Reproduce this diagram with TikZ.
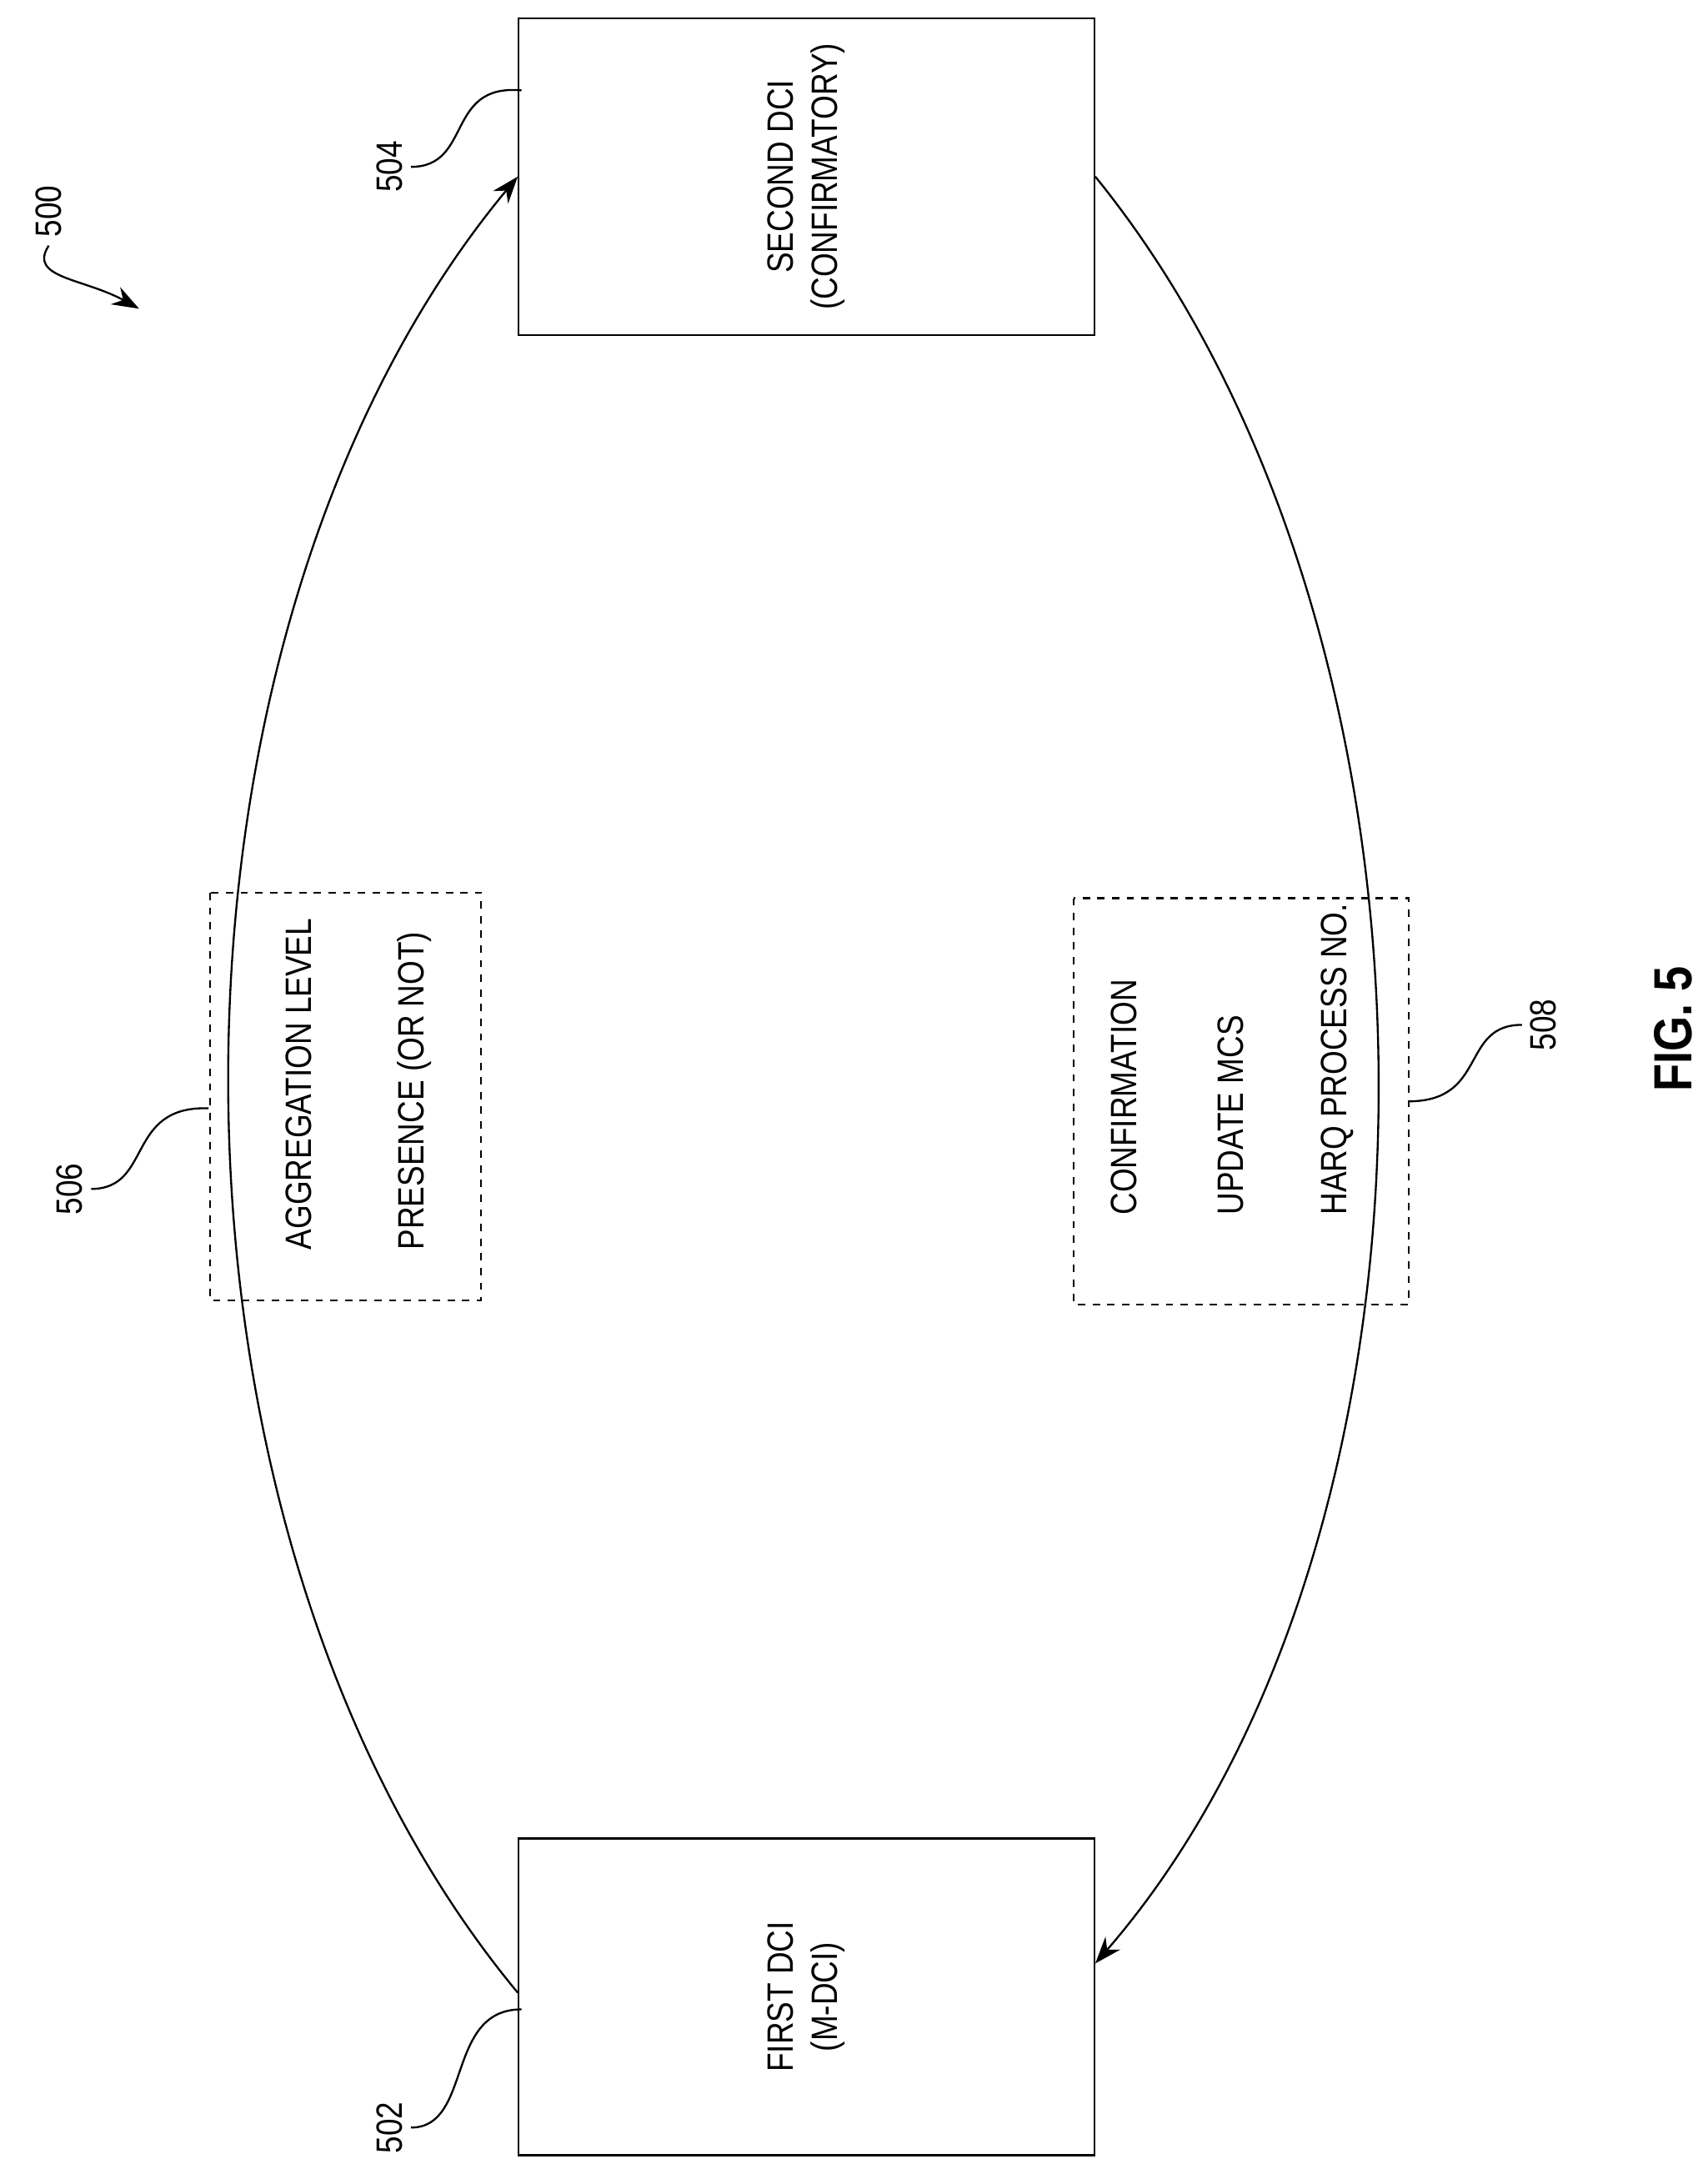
\documentclass[tikz,border=0pt]{standalone}
\usepackage{fontspec}
\setmainfont[FakeStretch=0.84]{Liberation Sans}
\usetikzlibrary{arrows.meta}
\tikzset{
  block/.style={draw, thick, minimum width=8.28cm, minimum height=4.56cm},
  optbox/.style={draw, dashed, thick},
  lbl/.style={rotate=90, font=\fontsize{15}{18}\selectfont},
  txt/.style={rotate=90, font=\fontsize{15}{18}\selectfont, align=center},
  lead/.style={thick},
  flow/.style={thick, -{Stealth[length=11pt,width=8pt]}}
}
\begin{document}
\begin{tikzpicture}[x=0.02cm,y=-0.02cm]
\useasboundingbox (0,0) rectangle (1228,1567);
% boxes
\node[block] (b504) at (580,127) {};
\node[txt] at (b504) {SECOND DCI\\(CONFIRMATORY)};
\node[block] (b502) at (580,1436) {};
\node[txt] at (b502) {FIRST DCI\\(M-DCI)};
\draw[optbox] (151,642) rectangle (346,935);
\node[lbl, anchor=west] (t506a) at (215,905) {AGGREGATION LEVEL};
\node[lbl, anchor=west] (t506b) at (298,905) {PRESENCE (OR NOT)};
\draw[optbox] (772,646) rectangle (1013,938);
\node[lbl, anchor=west] (t508a) at (808,880) {CONFIRMATION};
\node[lbl, anchor=west] (t508b) at (885,880) {UPDATE MCS};
\node[lbl, anchor=west] (t508c) at (962,880) {HARQ PROCESS NO.};
% arcs
\draw[flow] (b502.south west |- 0,1433) .. controls (96,1100) and (96,460) .. (b504.north west |- 0,127);
\draw[flow] (b504.north east |- 0,127) .. controls (1058,460) and (1058,1100) .. (b502.south east |- 0,1412);
% reference labels
\node[lbl] (l500) at (35,152) {500};
\coordinate (a500) at (100,222);
\draw[lead, -{Stealth[length=11pt,width=8pt]}] (l500.west) .. controls (20,200) and (60,200) .. (a500);
\node[lbl] (l504) at (280,120) {504};
\coordinate (c504) at (375,65);
\draw[lead] (l504.south) .. controls (340,120) and (320,60) .. (c504);
\node[lbl] (l506) at (50,855) {506};
\coordinate (c506) at (150,797);
\draw[lead] (l506.south) .. controls (110,855) and (90,795) .. (c506);
\node[lbl] (l502) at (280,1530) {502};
\coordinate (c502) at (375,1445);
\draw[lead] (l502.south) .. controls (340,1530) and (320,1445) .. (c502);
\node[lbl] (l508) at (1110,737) {508};
\coordinate (c508) at (1013,792);
\draw[lead] (l508.north) .. controls (1050,737) and (1070,792) .. (c508);
\node[rotate=90, font=\bfseries\fontsize{22}{26}\selectfont] (fig) at (1203,740) {FIG. 5};
\end{tikzpicture}
\end{document}
